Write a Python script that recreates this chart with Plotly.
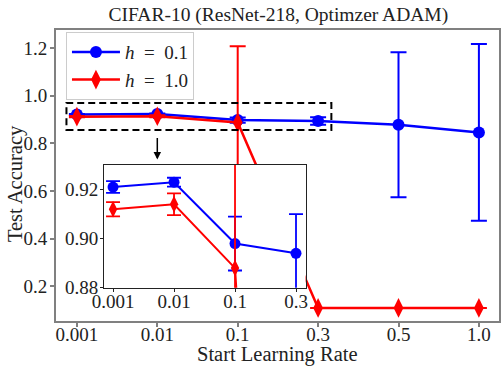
import plotly.graph_objects as go

# ---- data ----
lr_labels = ["0.001", "0.01", "0.1", "0.3", "0.5", "1.0"]
acc_h01 = [0.921, 0.923, 0.898, 0.894, 0.878, 0.846]
err_h01 = [0.0024, 0.0018, 0.011, 0.016, 0.304, 0.371]
acc_h10 = [0.912, 0.914, 0.888, 0.11, 0.11, 0.11]
err_h10 = [0.0029, 0.0044, 0.319, 0.0, 0.0, 0.0]

inset_labels = lr_labels[:4]
inset_h01 = acc_h01[:4]
inset_err_h01 = err_h01[:4]

main_yticks = [0.2, 0.4, 0.6, 0.8, 1.0, 1.2]
inset_yticks = [0.88, 0.90, 0.92]

BLUE = "#0000ff"
RED = "#ff0000"
FONT = "Liberation Serif"
TXT = "#222222"
GREY = "#808080"
SP = "\u2002"

fig = go.Figure()

# main traces
fig.add_trace(go.Scatter(
    x=lr_labels, y=acc_h01, mode="lines+markers", name="<i>h</i>" + SP + "=" + SP + "0.1",
    line=dict(color=BLUE, width=2.5),
    marker=dict(symbol="circle", size=12, color=BLUE),
    error_y=dict(type="data", array=err_h01, color=BLUE, thickness=2, width=8),
    xaxis="x", yaxis="y"))
fig.add_trace(go.Scatter(
    x=lr_labels, y=acc_h10, mode="lines+markers", name="<i>h</i>" + SP + "=" + SP + "1.0",
    line=dict(color=RED, width=2.5),
    marker=dict(symbol="diamond-tall", size=14, color=RED),
    error_y=dict(type="data", array=err_h10, color=RED, thickness=2, width=8),
    xaxis="x", yaxis="y"))

# inset traces
fig.add_trace(go.Scatter(
    x=inset_labels, y=inset_h01, mode="lines+markers", showlegend=False,
    line=dict(color=BLUE, width=2),
    marker=dict(symbol="circle", size=11, color=BLUE),
    error_y=dict(type="data", array=inset_err_h01, color=BLUE, thickness=1.8, width=7),
    xaxis="x2", yaxis="y2"))
fig.add_trace(go.Scatter(
    x=lr_labels, y=acc_h10, mode="lines+markers", showlegend=False,
    line=dict(color=RED, width=2),
    marker=dict(symbol="diamond-tall", size=12, color=RED),
    error_y=dict(type="data", array=err_h10, color=RED, thickness=1.8, width=7),
    xaxis="x2", yaxis="y2"))

fig.update_layout(
    width=501, height=366,
    margin=dict(l=56, r=0, t=30, b=45),
    paper_bgcolor="white", plot_bgcolor="white",
    font=dict(family=FONT, size=19, color=TXT),
    title=dict(text="CIFAR-10 (ResNet-218, Optimzer ADAM)", x=0.5555, xanchor="center",
               y=0.962, yanchor="middle", font=dict(size=19.5, color=TXT)),
    xaxis=dict(type="category", categoryorder="array", categoryarray=lr_labels,
               range=[-0.26, 5.25], showgrid=False, zeroline=False,
               showline=True, linecolor=GREY, linewidth=2, mirror=True,
               ticks="outside", ticklen=4, tickcolor=GREY, tickwidth=1.5,
               ticklabelstandoff=-9, tickfont=dict(size=19)),
    yaxis=dict(range=[0.055, 1.2755], tickvals=main_yticks,
               ticktext=["%.1f" % v for v in main_yticks],
               showgrid=False, zeroline=False,
               showline=True, linecolor=GREY, linewidth=2, mirror=True,
               ticks="outside", ticklen=4, tickcolor=GREY, tickwidth=1.5,
               ticklabelstandoff=-1, tickfont=dict(size=19)),
    xaxis2=dict(type="category", categoryorder="array", categoryarray=lr_labels,
                domain=[0.1085, 0.5634], anchor="y2", range=[-0.147, 3.157],
                tickvals=inset_labels, showgrid=False, zeroline=False,
                showline=True, linecolor=TXT, linewidth=1, mirror=True,
                ticks="outside", ticklen=3, tickcolor=TXT,
                ticklabelstandoff=-7, tickfont=dict(size=19)),
    yaxis2=dict(domain=[0.1144, 0.5361], anchor="x2", range=[0.88, 0.93],
                tickvals=inset_yticks, ticktext=["%.2f" % v for v in inset_yticks],
                showgrid=False, zeroline=False,
                showline=True, linecolor=TXT, linewidth=1, mirror=True,
                ticks="outside", ticklen=3, tickcolor=TXT,
                ticklabelstandoff=-2, tickfont=dict(size=19)),
    legend=dict(x=0.0225, y=0.993, xanchor="left", yanchor="top",
                bgcolor="white", bordercolor="#cccccc", borderwidth=1,
                font=dict(size=19), itemwidth=48),
    showlegend=True,
)

# axis titles placed like the reference
fig.add_annotation(text="Start Learning Rate", xref="paper", yref="paper",
                   x=0.5, y=-0.1168, xanchor="center", yanchor="middle",
                   showarrow=False, font=dict(size=20.5, color=TXT))
fig.add_annotation(text="Test Accuracy", xref="paper", yref="paper",
                   x=-0.09, y=0.471, xanchor="center", yanchor="middle", textangle=-90,
                   showarrow=False, font=dict(size=20.5, color=TXT))

# white background of the inset (covers main lines)
fig.add_shape(type="rect", xref="x2 domain", yref="y2 domain", x0=0, x1=1, y0=0, y1=1,
              fillcolor="white", line=dict(width=0), layer="below")
# dashed zoom box
fig.add_shape(type="rect", xref="x", yref="y", x0=-0.13, x1=3.165, y0=0.856, y1=0.969,
              line=dict(color="black", width=2, dash="7px,4px"), layer="above")
# arrow
fig.add_annotation(x=1, y=0.732, xref="x", yref="y", ax=0, ay=-23, axref="pixel",
                   showarrow=True, arrowhead=2, arrowsize=1, arrowwidth=1.5,
                   arrowcolor="black", text="")

fig.write_html("out.html")
